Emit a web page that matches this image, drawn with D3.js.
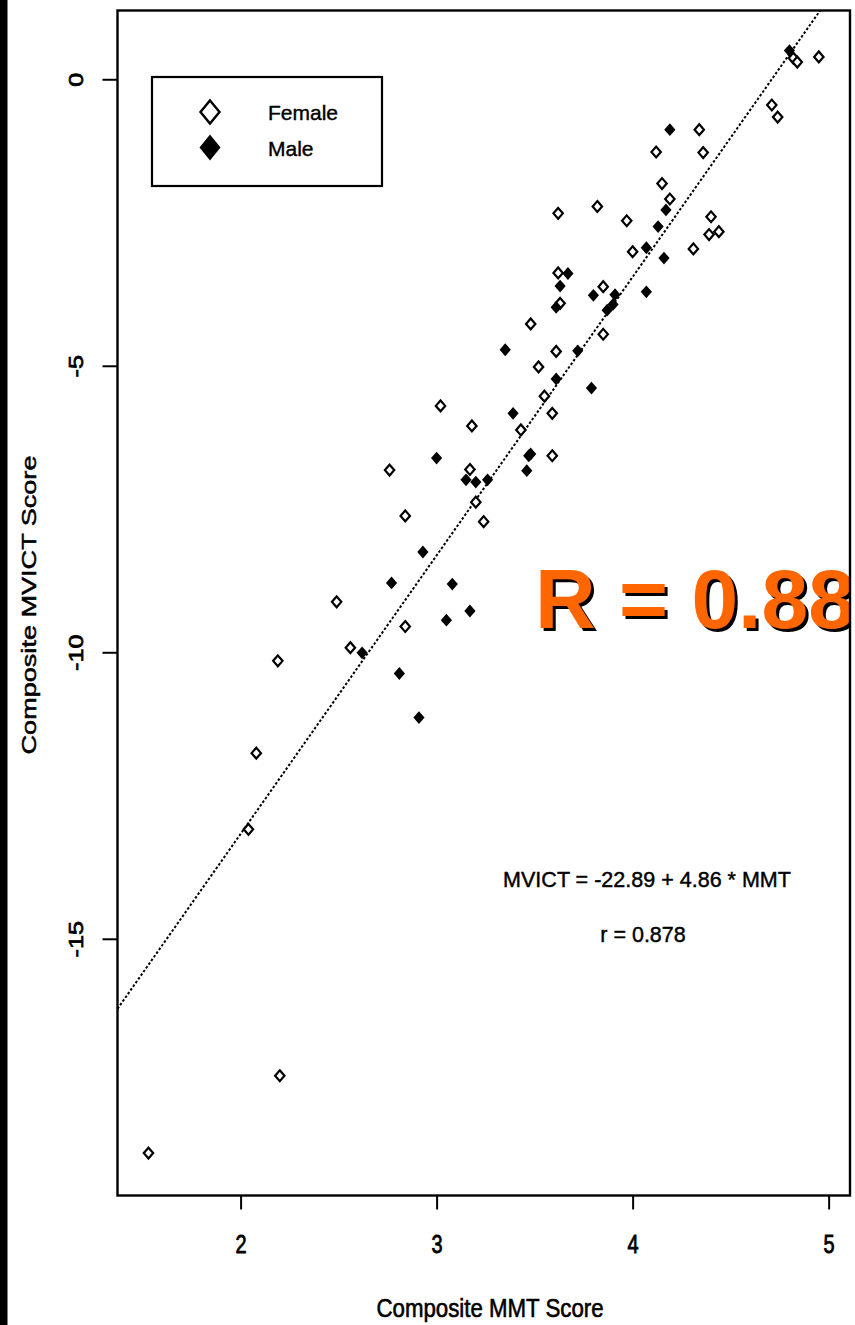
<!DOCTYPE html>
<html>
<head>
<meta charset="utf-8">
<script src="https://cdn.jsdelivr.net/npm/d3@7"></script>
<style>
  body { margin: 0; background: #fff; }
  svg { display: block; font-family: "Liberation Sans", Arial, sans-serif; }
</style>
</head>
<body>
<div id="chart"></div>
<script>
// values
const femaleMMT = [4.95, 4.82, 4.84, 4.71, 4.74, 4.34, 4.12, 4.36, 4.15, 4.19,
  3.82, 3.62, 3.97, 4.40, 4.39, 4.44, 4.31, 4.00, 3.62, 3.85,
  3.63, 3.48, 3.85, 3.61, 3.52, 3.55, 3.02, 3.59, 3.18, 3.43,
  3.59, 2.76, 3.17, 3.20, 2.84, 3.24, 2.49, 2.84, 2.56, 2.19,
  2.08, 2.04, 2.20, 1.53];
const femaleMVICT = [0.39, 0.37, 0.30, -0.45, -0.66, -0.88, -1.27, -1.28, -1.82, -2.09,
  -2.22, -2.34, -2.47, -2.40, -2.71, -2.66, -2.96, -3.01, -3.38, -3.62,
  -3.91, -4.27, -4.45, -4.75, -5.02, -5.53, -5.70, -5.83, -6.05, -6.12,
  -6.57, -6.82, -6.81, -7.38, -7.62, -7.72, -9.12, -9.55, -9.92, -10.15,
  -11.76, -13.09, -17.39, -18.74];
const maleMMT = [4.80, 4.19, 4.17, 4.13, 4.07, 4.16, 3.67, 3.63, 3.80, 3.91,
  4.07, 3.90, 3.87, 3.61, 3.35, 3.72, 3.61, 3.79, 3.39, 3.00,
  3.47, 3.48, 3.46, 3.15, 3.20, 3.26, 2.93, 2.77, 3.08, 3.17,
  3.05, 2.62, 2.81, 2.91];
const maleMVICT = [0.50, -0.88, -2.28, -2.57, -2.94, -3.12, -3.39, -3.61, -3.77, -3.76,
  -3.71, -3.93, -4.03, -3.98, -4.72, -4.74, -5.23, -5.39, -5.83, -6.61,
  -6.57, -6.54, -6.83, -6.99, -7.03, -6.99, -8.25, -8.79, -8.81, -9.28,
  -9.44, -10.01, -10.37, -11.14];

const xTicks = [2, 3, 4, 5];
const yTicks = [0, -5, -10, -15];
const legendLabels = ['Female', 'Male'];
const fitIntercept = -22.89;
const fitSlope = 4.86;
const fitText = 'MVICT = -22.89 + 4.86 * MMT';
const rText = 'r = 0.878';
const bigText = 'R = 0.88';

const width = 855;
const height = 1325;
const plot = { left: 117.5, right: 850, top: 10.5, bottom: 1195.5 };
const font = '"Liberation Sans", Arial, sans-serif';

const svg = d3.select('#chart')
  .append('svg')
  .attr('width', width)
  .attr('height', height);

svg.append('rect').attr('width', width).attr('height', height).attr('fill', '#fff');
// dark scan edge on the left
svg.append('rect').attr('x', 0).attr('y', 0).attr('width', 7.5).attr('height', height).attr('fill', '#000');

const x = d3.scaleLinear()
  .domain([1.372, 5.109])
  .range([plot.left, plot.right]);

const y = d3.scaleLinear()
  .domain([1.2, -19.48])
  .range([plot.top, plot.bottom]);

const female = femaleMMT.map((v, i) => ({ x: v, y: femaleMVICT[i] }));
const male = maleMMT.map((v, i) => ({ x: v, y: maleMVICT[i] }));

const diamond = (w, h) => `M0,${-h}L${w},0L0,${h}L${-w},0Z`;

svg.append('defs').append('clipPath').attr('id', 'plotclip')
  .append('rect')
  .attr('x', plot.left).attr('y', plot.top)
  .attr('width', plot.right - plot.left).attr('height', plot.bottom - plot.top);

// regression line
const x0 = x.domain()[0];
const x1 = (y.domain()[0] - fitIntercept) / fitSlope;
svg.append('line')
  .attr('clip-path', 'url(#plotclip)')
  .attr('x1', x(x0)).attr('y1', y(fitIntercept + fitSlope * x0))
  .attr('x2', x(x1)).attr('y2', y(fitIntercept + fitSlope * x1))
  .attr('stroke', '#000')
  .attr('stroke-width', 2)
  .attr('stroke-dasharray', '2.5,2');

// points
svg.append('g')
  .selectAll('path')
  .data(female)
  .join('path')
    .attr('transform', d => `translate(${x(d.x)},${y(d.y)})`)
    .attr('d', diamond(4.7, 5.4))
    .attr('fill', '#fff')
    .attr('stroke', '#000')
    .attr('stroke-width', 2.2);

svg.append('g')
  .selectAll('path')
  .data(male)
  .join('path')
    .attr('transform', d => `translate(${x(d.x)},${y(d.y)})`)
    .attr('d', diamond(5.6, 6.4))
    .attr('fill', '#000');

// big annotation
svg.append('text')
  .attr('clip-path', 'url(#plotclip)')
  .attr('x', 538).attr('y', 631)
  .attr('font-size', 84)
  .attr('font-weight', 'bold')
  .attr('fill', '#000')
  .text(bigText);
svg.append('text')
  .attr('clip-path', 'url(#plotclip)')
  .attr('x', 535).attr('y', 628)
  .attr('font-size', 84)
  .attr('font-weight', 'bold')
  .attr('fill', '#ff6600')
  .text(bigText);

// fit text
svg.append('text')
  .attr('text-anchor', 'middle')
  .attr('font-size', 20.5)
  .attr('stroke', '#000').attr('stroke-width', 0.4)
  .attr('transform', 'translate(647,887) scale(1.05,1.12)')
  .text(fitText);
svg.append('text')
  .attr('text-anchor', 'middle')
  .attr('font-size', 20.5)
  .attr('stroke', '#000').attr('stroke-width', 0.4)
  .attr('transform', 'translate(643,942) scale(1.05,1.12)')
  .text(rText);

// frame
svg.append('rect')
  .attr('x', plot.left).attr('y', plot.top)
  .attr('width', plot.right - plot.left).attr('height', plot.bottom - plot.top)
  .attr('fill', 'none')
  .attr('stroke', '#000')
  .attr('stroke-width', 2.4);

// axes
const xAxis = svg.append('g')
  .attr('transform', `translate(0,${plot.bottom})`)
  .call(d3.axisBottom(x).tickValues(xTicks).tickSize(14).tickFormat(d => String(d)));
xAxis.select('.domain').remove();
xAxis.selectAll('.tick line').attr('stroke-width', 2);
xAxis.selectAll('.tick text')
  .attr('y', null).attr('dy', null)
  .attr('transform', 'translate(0,57) scale(0.95,1.22)')
  .attr('font-size', 21)
  .attr('font-family', font)
  .attr('fill', '#000')
  .attr('stroke', '#000').attr('stroke-width', 0.7);

const yAxis = svg.append('g')
  .attr('transform', `translate(${plot.left},0)`)
  .call(d3.axisLeft(y).tickValues(yTicks).tickSize(15).tickFormat(d => String(d)));
yAxis.select('.domain').remove();
yAxis.selectAll('.tick line').attr('stroke-width', 2);
yAxis.selectAll('.tick text')
  .attr('x', null).attr('dy', null)
  .attr('text-anchor', 'middle')
  .attr('transform', 'translate(-35,0) scale(1,1.2) rotate(-90)')
  .attr('font-size', 21)
  .attr('font-family', font)
  .attr('fill', '#000')
  .attr('stroke', '#000').attr('stroke-width', 0.7);

// axis titles
svg.append('text')
  .attr('text-anchor', 'middle')
  .attr('font-size', 21)
  .attr('stroke', '#000').attr('stroke-width', 0.5)
  .attr('transform', 'translate(490,1317) scale(1.06,1.2)')
  .text('Composite MMT Score');

svg.append('text')
  .attr('text-anchor', 'middle')
  .attr('font-size', 21)
  .attr('stroke', '#000').attr('stroke-width', 0.5)
  .attr('transform', 'translate(36,605) scale(1,1.29) rotate(-90)')
  .text('Composite MVICT Score');

// legend
const legend = svg.append('g');
legend.append('rect')
  .attr('x', 152).attr('y', 77)
  .attr('width', 230).attr('height', 109)
  .attr('fill', '#fff')
  .attr('stroke', '#000')
  .attr('stroke-width', 2.2);
legendLabels.forEach((lab, i) => {
  const cy = 112 + i * 35.5;
  legend.append('path')
    .attr('transform', `translate(210,${cy})`)
    .attr('d', i === 0 ? diamond(9.5, 11.5) : diamond(10.5, 13))
    .attr('fill', i === 0 ? '#fff' : '#000')
    .attr('stroke', i === 0 ? '#000' : 'none')
    .attr('stroke-width', 2.4);
  legend.append('text')
    .attr('x', 268).attr('y', cy + 8)
    .attr('font-size', 21)
    .attr('stroke', '#000').attr('stroke-width', 0.4)
    .text(lab);
});
</script>
</body>
</html>
